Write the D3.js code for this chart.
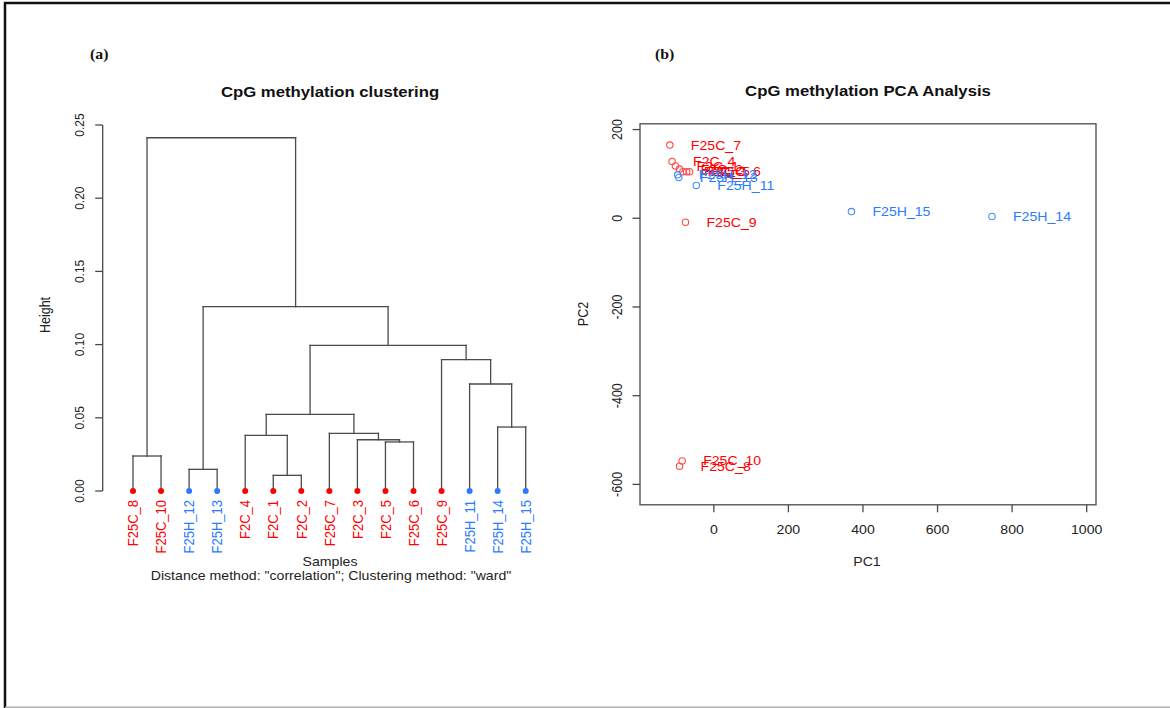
<!DOCTYPE html>
<html>
<head>
<meta charset="utf-8">
<script src="https://cdn.jsdelivr.net/npm/d3@7"></script>
<style>
  html, body { margin: 0; padding: 0; background: #fff; }
  svg { display: block; }
</style>
</head>
<body>
<svg id="chart" width="1170" height="708"></svg>
<script>
// ---------- DATA ----------
// Panel (a): hierarchical clustering (leaf order as drawn)
const leafLabels = ["F25C_8","F25C_10","F25H_12","F25H_13","F2C_4","F2C_1","F2C_2",
                    "F25C_7","F2C_3","F2C_5","F25C_6","F25C_9","F25H_11","F25H_14","F25H_15"];
// merge steps: string = leaf, number = earlier merge (1-based)
const mergeA = ["F2C_1","F25H_12","F25C_8","F2C_5","F2C_3","F2C_4","F25C_7","F25H_14",6,"F25H_11","F25C_9",9,2,3];
const mergeB = ["F2C_2","F25H_13","F25C_10","F25C_6",4,1,5,"F25H_15",7,8,10,11,12,13];
const mergeHeight = [0.0107,0.0148,0.0239,0.0335,0.0350,0.0380,0.0394,0.0437,0.0523,0.0731,0.0897,0.0995,0.1259,0.2413];
const heightTicks = [0, 0.05, 0.10, 0.15, 0.20, 0.25];

// Panel (b): PCA
const pcaSamples = ["F25C_7","F2C_4","F2C_1","F2C_2","F2C_3","F2C_5","F25C_6","F25H_12",
                    "F25H_13","F25H_11","F25C_9","F25H_15","F25H_14","F25C_10","F25C_8"];
const pc1 = [-118,-112,-103,-92,-83,-73,-65,-97,-94,-47,-76,369,746,-85,-92];
const pc2 = [165,128,118,111,105,105,105,98,92,74,-9,15,4,-547,-559];
const pc1Ticks = [0,200,400,600,800,1000];
const pc2Ticks = [200,0,-200,-400,-600];

// ---------- STYLE ----------
const RED = "#ff0000", BLUE = "#2a7bff";
const RED_PT = "#ff4a4a", BLUE_PT = "#4a8cff";
const LINE = "#4a4a4a";
const SANS = "'Liberation Sans', Arial, Helvetica, sans-serif";
const SERIF = "'Liberation Serif', 'Times New Roman', serif";
const SX = 1.13; // horizontal stretch of the original figure
const colorOf = l => l.startsWith("F25H") ? BLUE : RED;

const svg = d3.select("#chart");

function addText(parent, x, y, str, o = {}) {
  const size = o.size || 12.5;
  const rot = o.rotate || 0;
  return parent.append("text")
    .attr("transform", `translate(${x},${y}) scale(${SX},1)` + (rot ? ` rotate(${rot})` : ""))
    .attr("text-anchor", o.anchor || "start")
    .attr("font-family", o.family || SANS)
    .attr("font-size", size)
    .attr("font-weight", o.weight || "normal")
    .attr("fill", o.fill || "#222")
    .text(str);
}

// ---------- FRAME ----------
svg.append("line").attr("x1", 5).attr("x2", 5).attr("y1", 2).attr("y2", 708)
  .attr("stroke", "#111").attr("stroke-width", 2.5);
svg.append("line").attr("x1", 4).attr("x2", 1170).attr("y1", 3).attr("y2", 3)
  .attr("stroke", "#111").attr("stroke-width", 2.5);
svg.append("line").attr("x1", 5).attr("x2", 1170).attr("y1", 707.3).attr("y2", 707.3)
  .attr("stroke", "#b0b0b0").attr("stroke-width", 1.5);

addText(svg, 90, 59, "(a)", {family: SERIF, weight: "bold", size: 14, fill: "#111"});
addText(svg, 655, 59, "(b)", {family: SERIF, weight: "bold", size: 14, fill: "#111"});

// ---------- PANEL A: DENDROGRAM ----------
const gA = svg.append("g");
const xLeaf = d3.scalePoint().domain(leafLabels).range([133, 525.7]);
const yH = d3.scaleLinear().domain([0, 0.25]).range([491, 125]);

// compute node positions
const nodes = []; // {x, h}
function nodeOf(ref) {
  if (typeof ref === "string") return {x: xLeaf(ref), h: 0};
  return nodes[ref - 1];
}
const segs = [];
mergeHeight.forEach((h, i) => {
  const a = nodeOf(mergeA[i]), b = nodeOf(mergeB[i]);
  segs.push([a.x, yH(a.h), a.x, yH(h)]);
  segs.push([a.x, yH(h), b.x, yH(h)]);
  segs.push([b.x, yH(h), b.x, yH(b.h)]);
  nodes.push({x: (a.x + b.x) / 2, h});
});
gA.selectAll("line.seg").data(segs).join("line")
  .attr("x1", d => d[0]).attr("y1", d => d[1]).attr("x2", d => d[2]).attr("y2", d => d[3])
  .attr("stroke", LINE).attr("stroke-width", 1.3).attr("stroke-linecap", "square");

gA.selectAll("circle.leaf").data(leafLabels).join("circle")
  .attr("cx", d => xLeaf(d)).attr("cy", yH(0)).attr("r", 3)
  .attr("fill", d => colorOf(d));

leafLabels.forEach(l => {
  addText(gA, xLeaf(l) + 5.2, 500, l, {rotate: -90, anchor: "end", size: 13, fill: colorOf(l)});
});

// y axis
const axX = 102.7;
gA.append("line").attr("x1", axX).attr("x2", axX).attr("y1", yH(0)).attr("y2", yH(0.25))
  .attr("stroke", LINE).attr("stroke-width", 1.3);
heightTicks.forEach(t => {
  gA.append("line").attr("x1", axX - 7.5).attr("x2", axX).attr("y1", yH(t)).attr("y2", yH(t))
    .attr("stroke", LINE).attr("stroke-width", 1.3);
  addText(gA, 84.2, yH(t), d3.format(".2f")(t), {rotate: -90, anchor: "middle", size: 12});
});
addText(gA, 50, 315, "Height", {rotate: -90, anchor: "middle", size: 12.5});
addText(gA, 330, 97, "CpG methylation clustering", {anchor: "middle", weight: "bold", size: 14.8, fill: "#111"});
addText(gA, 330, 565.5, "Samples", {anchor: "middle", size: 12.5});
addText(gA, 331, 580, "Distance method: \"correlation\"; Clustering method: \"ward\"", {anchor: "middle", size: 12.5});

// ---------- PANEL B: PCA ----------
const gB = svg.append("g");
const box = {l: 640, r: 1096, t: 123.8, b: 504.8};
const x = d3.scaleLinear().domain([-198, 1025]).range([box.l, box.r]);
const y = d3.scaleLinear().domain([-646, 213]).range([box.b, box.t]);

gB.append("rect").attr("x", box.l).attr("y", box.t)
  .attr("width", box.r - box.l).attr("height", box.b - box.t)
  .attr("fill", "none").attr("stroke", LINE).attr("stroke-width", 1.3);

pc1Ticks.forEach(t => {
  gB.append("line").attr("x1", x(t)).attr("x2", x(t)).attr("y1", box.b).attr("y2", box.b + 7.5)
    .attr("stroke", LINE).attr("stroke-width", 1.3);
  addText(gB, x(t), 534, String(t), {anchor: "middle", size: 12.5});
});
pc2Ticks.forEach(t => {
  gB.append("line").attr("x1", box.l - 7.5).attr("x2", box.l).attr("y1", y(t)).attr("y2", y(t))
    .attr("stroke", LINE).attr("stroke-width", 1.3);
  addText(gB, 622.4, y(t), String(t), {rotate: -90, anchor: "middle", size: 12.5});
});
addText(gB, 867, 566, "PC1", {anchor: "middle", size: 12.5});
addText(gB, 588, 314, "PC2", {rotate: -90, anchor: "middle", size: 12.5});
addText(gB, 868, 96, "CpG methylation PCA Analysis", {anchor: "middle", weight: "bold", size: 14.8, fill: "#111"});

const pca = pcaSamples.map((s, i) => ({s, x: pc1[i], y: pc2[i]}));
gB.selectAll("circle.pt").data(pca).join("circle")
  .attr("cx", d => x(d.x)).attr("cy", d => y(d.y)).attr("r", 3.2)
  .attr("fill", "none").attr("stroke", d => colorOf(d.s) === RED ? RED_PT : BLUE_PT)
  .attr("stroke-width", 1.1);
pca.forEach(d => {
  addText(gB, x(d.x) + 21, y(d.y) + 4.6, d.s, {size: 12.5, fill: colorOf(d.s)});
});
</script>
</body>
</html>
